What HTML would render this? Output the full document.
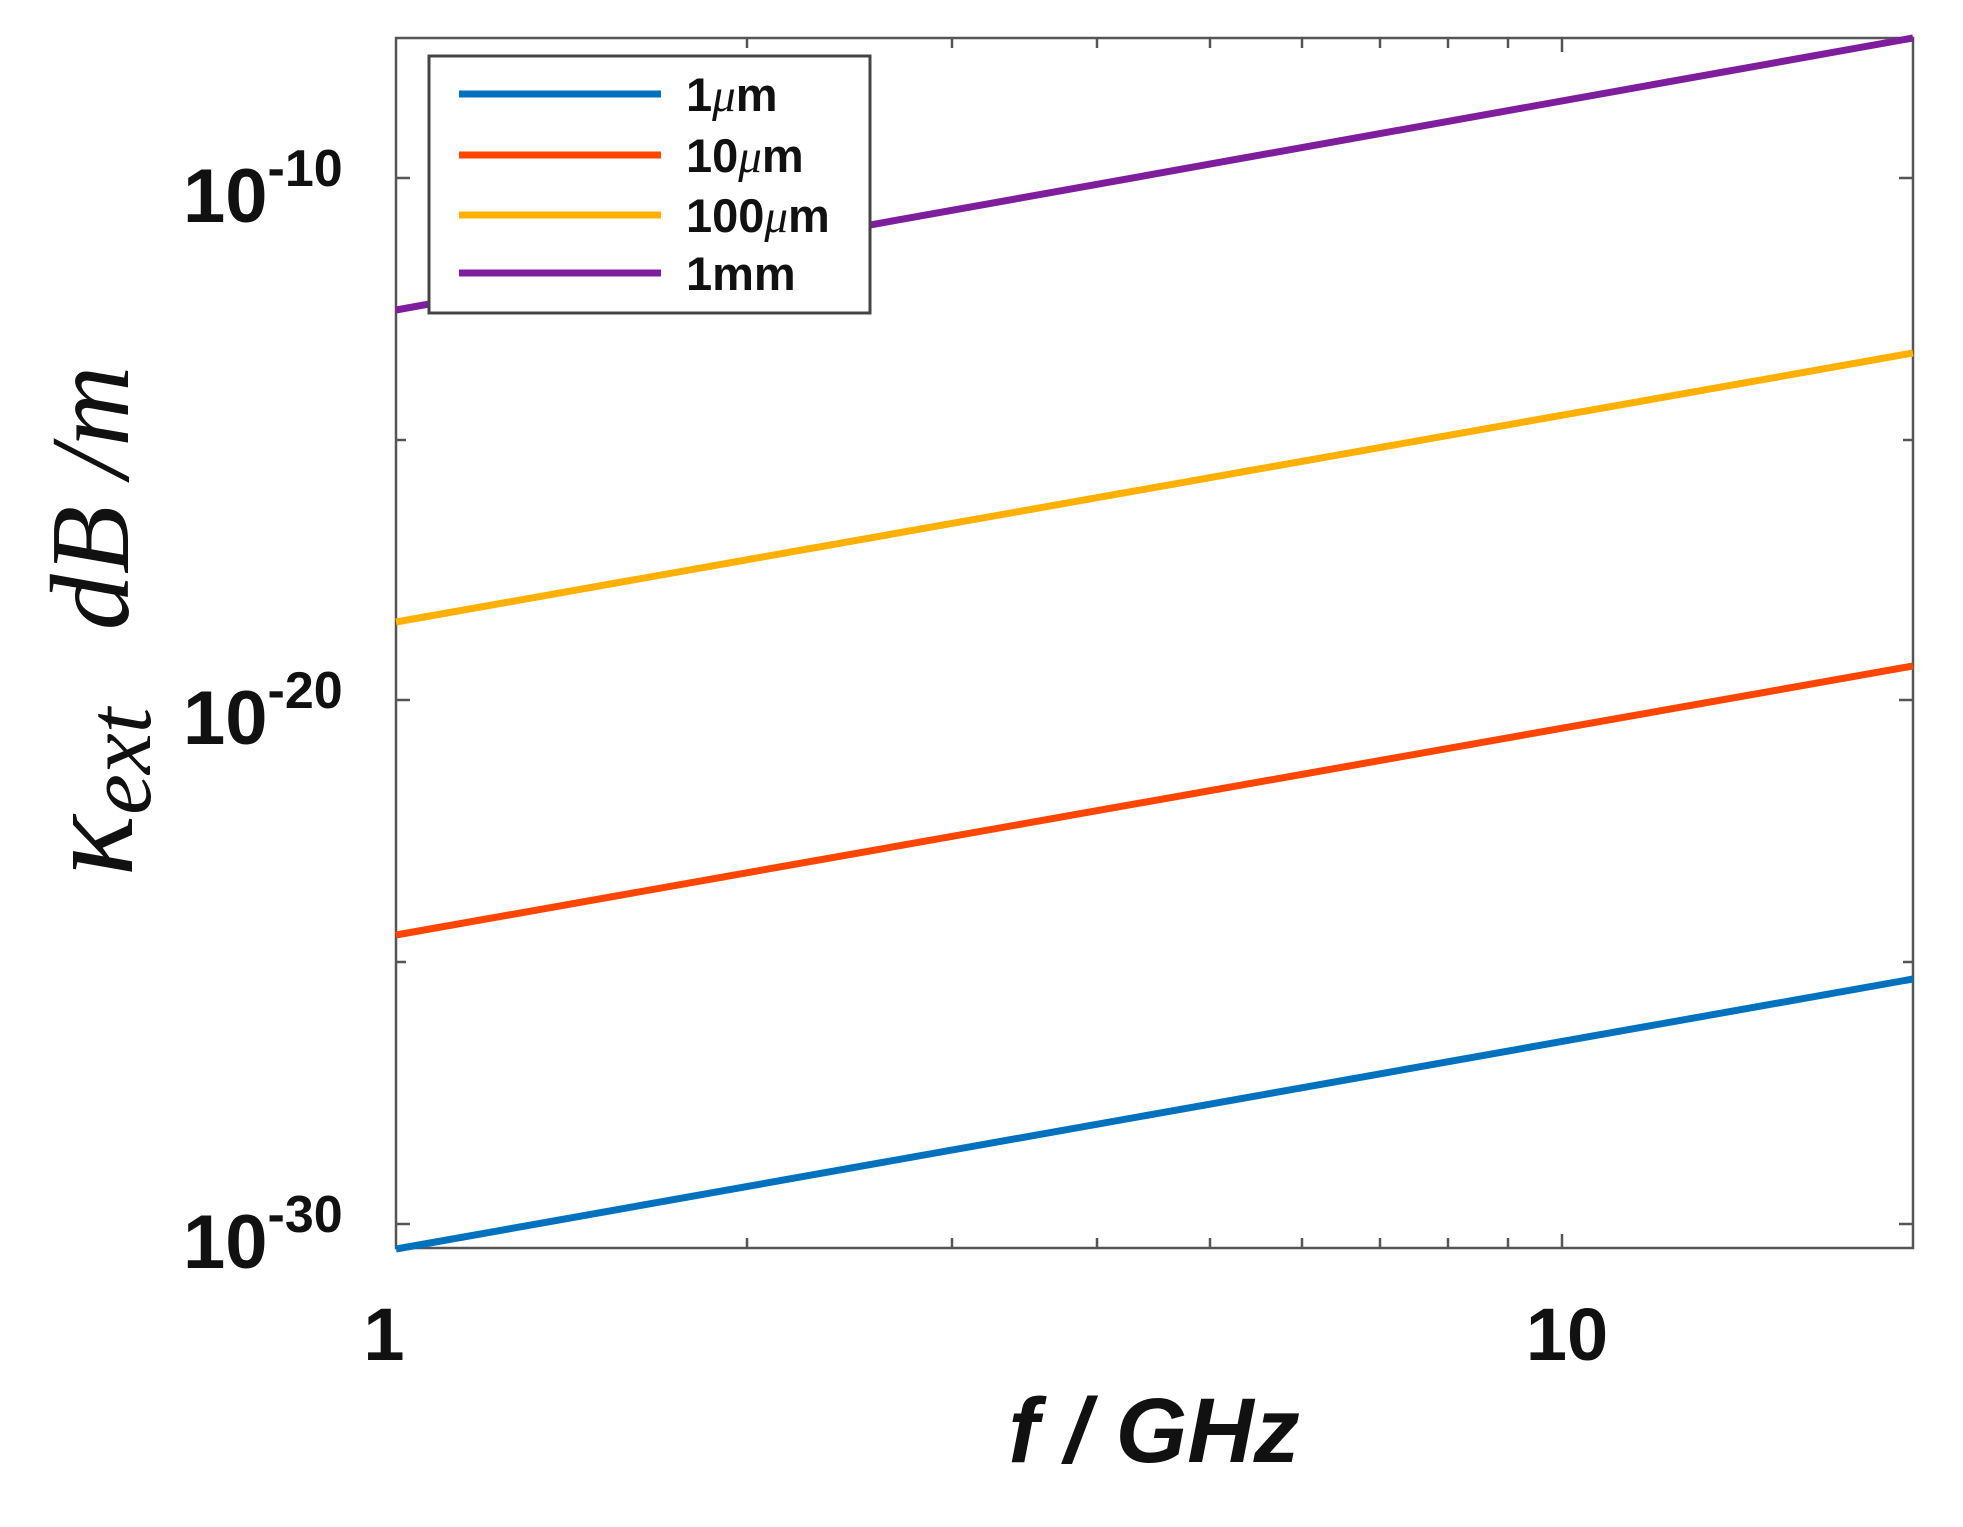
<!DOCTYPE html>
<html><head><meta charset="utf-8"><style>html,body{margin:0;padding:0;background:#fff}</style></head><body>
<svg width="1963" height="1522" viewBox="0 0 1963 1522" xmlns="http://www.w3.org/2000/svg">
<rect width="1963" height="1522" fill="#fff"/>
<g stroke="#555" stroke-width="2.5" fill="none">
<rect x="396" y="38" width="1517" height="1210"/>
<path d="M396 178h14M396 440h10M396 700h14M396 962h10M396 1224h14M1913 178h-14M1913 440h-10M1913 700h-14M1913 962h-10M1913 1224h-14"/>
<path d="M747 1248v-10M952 1248v-10M1097 1248v-10M1210 1248v-10M1302 1248v-10M1380 1248v-10M1448 1248v-10M1508 1248v-10M1562 1248v-14M1562 38v14M747 38v10M952 38v10M1097 38v10M1210 38v10M1302 38v10M1380 38v10M1448 38v10M1508 38v10"/>
</g>
<g stroke-width="7" fill="none">
<line x1="396" y1="1249" x2="1913" y2="979" stroke="#0072BD"/>
<line x1="396" y1="935" x2="1913" y2="666" stroke="#FF4500"/>
<line x1="396" y1="622" x2="1913" y2="353" stroke="#FFB000"/>
<line x1="396" y1="310" x2="1913" y2="38" stroke="#7E1E9C"/>
</g>
<rect x="429" y="56" width="441" height="257" fill="#fff" stroke="#444" stroke-width="3"/>
<g stroke-width="7">
<line x1="459" y1="94" x2="661" y2="94" stroke="#0072BD"/>
<line x1="459" y1="155" x2="661" y2="155" stroke="#FF4500"/>
<line x1="459" y1="215" x2="661" y2="215" stroke="#FFB000"/>
<line x1="459" y1="273" x2="661" y2="273" stroke="#7E1E9C"/>
</g>
<g font-family="Liberation Sans, sans-serif" font-weight="bold" font-size="47" fill="#111">
<text x="686" y="111">1<tspan font-family="Liberation Serif, serif" font-style="italic" font-weight="normal">μ</tspan>m</text>
<text x="686" y="172">10<tspan font-family="Liberation Serif, serif" font-style="italic" font-weight="normal">μ</tspan>m</text>
<text x="686" y="232">100<tspan font-family="Liberation Serif, serif" font-style="italic" font-weight="normal">μ</tspan>m</text>
<text x="686" y="290">1mm</text>
</g>
<g font-family="Liberation Sans, sans-serif" font-weight="bold" fill="#111">
<text x="183" y="222" font-size="76">10<tspan font-size="52" dy="-36">-10</tspan></text>
<text x="183" y="744" font-size="76">10<tspan font-size="52" dy="-36">-20</tspan></text>
<text x="183" y="1268" font-size="76">10<tspan font-size="52" dy="-36">-30</tspan></text>
<text x="384" y="1360" font-size="74" text-anchor="middle">1</text>
<text x="1567" y="1360" font-size="74" text-anchor="middle">10</text>
<text x="1154" y="1462" font-size="92" font-style="italic" text-anchor="middle">f / GHz</text>
</g>
<g font-family="Liberation Serif, serif" font-style="italic" fill="#111">
<text transform="translate(128,498) rotate(-90)" text-anchor="middle" font-size="112">dB /m</text>
<text transform="translate(132,792) rotate(-90)" text-anchor="middle" font-size="128">κ<tspan font-size="92" dy="18">ext</tspan></text>
</g>
</svg>
</body></html>
